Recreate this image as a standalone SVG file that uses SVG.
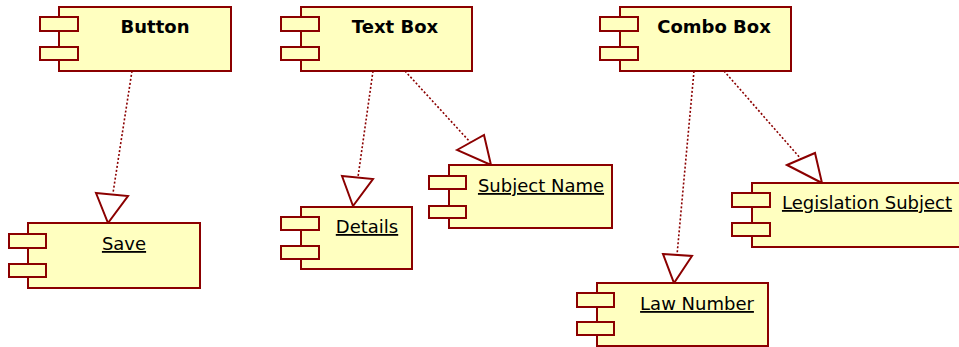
<svg xmlns="http://www.w3.org/2000/svg" width="959" height="347" viewBox="0 0 959 347">
<style>
.b{fill:#FFFFC0;stroke:#8B0000;stroke-width:2}
.t{font-family:"DejaVu Sans",sans-serif;font-size:18px;fill:#000}
.tb{font-weight:bold}
.u{text-decoration:underline}
.d{fill:none;stroke:#8B0000;stroke-width:1.6;stroke-dasharray:2,2}
.h{fill:#fff;stroke:#8B0000;stroke-width:2;stroke-linejoin:miter}
</style>
<rect width="959" height="347" fill="#fff"/>
<g id="connectors">
<line class="d" x1="132" y1="71" x2="113" y2="193"/>
<polygon class="h" points="96,193 128,196 108,223"/>
<line class="d" x1="373" y1="71" x2="358" y2="177"/>
<polygon class="h" points="342,176 373,179 353,206"/>
<line class="d" x1="405" y1="71" x2="470" y2="142"/>
<polygon class="h" points="457,150 484,135 491,165"/>
<line class="d" x1="694" y1="71" x2="677" y2="255"/>
<polygon class="h" points="663,254 692,256 674,283"/>
<line class="d" x1="724" y1="71" x2="801" y2="159"/>
<polygon class="h" points="787,165 815,153 822,183"/>
</g>
<g id="button">
<rect class="b" x="59" y="7" width="172" height="64"/>
<rect class="b" x="40" y="17" width="38" height="14"/>
<rect class="b" x="40" y="47" width="38" height="13"/>
<text class="t tb" x="155" y="33" text-anchor="middle">Button</text>
</g>
<g id="textbox">
<rect class="b" x="301" y="7" width="171" height="64"/>
<rect class="b" x="281" y="17" width="38" height="14"/>
<rect class="b" x="281" y="47" width="38" height="13"/>
<text class="t tb" x="395" y="33" text-anchor="middle">Text Box</text>
</g>
<g id="combobox">
<rect class="b" x="620" y="7" width="171" height="64"/>
<rect class="b" x="600" y="17" width="38" height="14"/>
<rect class="b" x="600" y="47" width="38" height="13"/>
<text class="t tb" x="714" y="33" text-anchor="middle">Combo Box</text>
</g>
<g id="save">
<rect class="b" x="28" y="223" width="172" height="65"/>
<rect class="b" x="9" y="234" width="37" height="14"/>
<rect class="b" x="9" y="264" width="37" height="13"/>
<text class="t u" x="124" y="250" text-anchor="middle">Save</text>
</g>
<g id="details">
<rect class="b" x="301" y="207" width="111" height="62"/>
<rect class="b" x="281" y="217" width="38" height="13"/>
<rect class="b" x="281" y="246" width="38" height="13"/>
<text class="t u" x="367" y="233" text-anchor="middle">Details</text>
</g>
<g id="subjectname">
<rect class="b" x="449" y="165" width="163" height="63"/>
<rect class="b" x="429" y="176" width="37" height="13"/>
<rect class="b" x="429" y="206" width="37" height="12"/>
<text class="t u" x="541" y="192" text-anchor="middle">Subject Name</text>
</g>
<g id="legislationsubject">
<rect class="b" x="752" y="183" width="210" height="64"/>
<rect class="b" x="732" y="193" width="38" height="14"/>
<rect class="b" x="732" y="223" width="38" height="13"/>
<text class="t u" x="867" y="209" text-anchor="middle">Legislation Subject</text>
</g>
<g id="lawnumber">
<rect class="b" x="597" y="283" width="171" height="63"/>
<rect class="b" x="577" y="293" width="37" height="14"/>
<rect class="b" x="577" y="322" width="37" height="13"/>
<text class="t u" x="697" y="310" text-anchor="middle">Law Number</text>
</g>
</svg>
